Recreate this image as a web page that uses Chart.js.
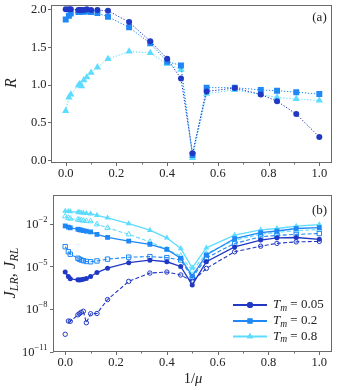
<!DOCTYPE html>
<html><head><meta charset="utf-8">
<script src="https://cdn.jsdelivr.net/npm/chart.js@4.4.1/dist/chart.umd.min.js"></script>
<style>
html,body{margin:0;padding:0;background:#fff;}
#wrap{position:relative;width:337px;height:390px;overflow:hidden;background:#fff;}
#wa{position:absolute;left:0;top:0;width:337px;height:190px;}
#wb{position:absolute;left:0;top:190px;width:337px;height:200px;}
</style></head><body>
<div id="wrap"><div id="wa"><canvas id="ca"></canvas></div><div id="wb"><canvas id="cb"></canvas></div></div>
<script>
// ---- data ----
const invMu = [0, 0.0125, 0.02, 0.05, 0.0556, 0.0625, 0.0714, 0.0833, 0.1, 0.125, 0.1667, 0.25, 0.3333, 0.4, 0.4545, 0.5, 0.5556, 0.6667, 0.7692, 0.8333, 0.9091, 1.0];
const tmLabels = ['0.05', '0.2', '0.8'];
// panel (a): R
const R_Tm005 = [2.0, 2.0, 2.0, 1.99, 1.99, 1.99, 1.99, 2.0, 1.99, 1.99, 1.98, 1.83, 1.575, 1.345, 1.08, 0.09, 0.91, 0.955, 0.87, 0.78, 0.61, 0.305];
const R_Tm02  = [1.865, 1.915, 1.945, 1.965, 1.965, 1.97, 1.97, 1.97, 1.965, 1.95, 1.90, 1.76, 1.55, 1.305, 1.255, 0.066, 0.96, 0.96, 0.93, 0.92, 0.90, 0.875];
const R_Tm08  = [0.65, 0.83, 0.87, 0.99, 1.01, 0.98, 1.06, 1.10, 1.16, 1.23, 1.34, 1.44, 1.42, 1.275, 1.20, 0.027, 0.88, 0.93, 0.87, 0.83, 0.81, 0.79];
// panel (b): J_LR (solid, filled) and J_RL (dashed, open)
const JLR_Tm005 = [4.0e-6, 1.95e-6, 1.35e-6, 1.15e-6, 1.12e-6, 1.17e-6, 1.26e-6, 1.41e-6, 1.95e-6, 3.7e-6, 7.4e-6, 1.8e-5, 2.7e-5, 2.1e-5, 9.8e-6, 5.0e-7, 2.1e-5, 2.3e-4, 6.9e-4, 1.0e-3, 1.05e-3, 7.9e-4];
const JRL_Tm005 = [1.74e-10, 1.48e-9, 1.41e-9, 4.0e-9, 4.8e-9, 6.0e-9, 7.1e-9, 1.12e-9, 4.8e-9, 5.0e-9, 4.7e-8, 8.9e-7, 3.4e-6, 4.0e-6, 2.5e-6, 8.9e-7, 7.2e-6, 1.05e-4, 2.6e-4, 4.1e-4, 5.2e-4, 5.6e-4];
const JLR_Tm02  = [6.8e-3, 5.6e-3, 5.0e-3, 4.0e-3, 3.7e-3, 3.5e-3, 3.2e-3, 2.9e-3, 2.6e-3, 1.74e-3, 1.07e-3, 5.9e-4, 3.5e-4, 1.55e-4, 3.7e-5, 2.1e-6, 6.3e-5, 8.9e-4, 2.3e-3, 3.0e-3, 4.5e-3, 5.2e-3];
const JRL_Tm02  = [2.4e-4, 1.07e-4, 7.1e-5, 3.7e-5, 3.2e-5, 2.8e-5, 2.5e-5, 2.2e-5, 2.1e-5, 2.4e-5, 3.2e-5, 4.4e-5, 4.8e-5, 4.1e-5, 2.8e-5, 1.6e-6, 4.0e-5, 4.0e-4, 1.17e-3, 1.48e-3, 1.74e-3, 2.0e-3];
const JLR_Tm08  = [7.4e-2, 7.1e-2, 6.8e-2, 6.3e-2, 6.0e-2, 5.8e-2, 5.5e-2, 5.2e-2, 4.9e-2, 3.8e-2, 2.5e-2, 1.0e-2, 3.4e-3, 1.0e-3, 1.8e-4, 7.9e-6, 2.0e-4, 1.55e-3, 3.6e-3, 4.5e-3, 6.5e-3, 8.5e-3];
const JRL_Tm08  = [3.2e-2, 2.5e-2, 2.2e-2, 1.9e-2, 1.8e-2, 1.7e-2, 1.6e-2, 1.5e-2, 1.45e-2, 8.9e-3, 5.0e-3, 1.74e-3, 5.2e-4, 1.55e-4, 5.4e-5, 5.0e-6, 7.9e-5, 6.9e-4, 1.8e-3, 2.4e-3, 3.2e-3, 3.8e-3];
// ticks
const xTicks = [0, 0.2, 0.4, 0.6, 0.8, 1.0];
const xMinorTicks = [0.1, 0.3, 0.5, 0.7, 0.9];
const rTicks = [0, 0.5, 1.0, 1.5, 2.0];
const jTicks = [1e-11, 1e-8, 1e-5, 1e-2];
const jTickExp = ['\u221211', '\u22128', '\u22125', '\u22122'];

// ---- styles ----
const C = ['#2038c4', '#1f88f6', '#5ddcff'];
const FONT = '"Liberation Serif", "DejaVu Serif", serif';
const FRAME = '#6a6a6a';
const TXT = '#222';

function pts(arr) { return invMu.map((x, i) => ({x: x, y: arr[i]})); }

function drawRuns(ctx, runs, x, y, align) {
  let w = 0;
  runs.forEach(r => { ctx.font = r.font; r.w = ctx.measureText(r.t).width; w += r.w; });
  let cx = align === 'right' ? x - w : (align === 'center' ? x - w / 2 : x);
  runs.forEach(r => { ctx.font = r.font; ctx.fillText(r.t, cx, y + (r.dy || 0)); cx += r.w; });
  return w;
}

function framePlugin(kind) {
  return {
    id: 'frame_' + kind,
    afterDraw(chart) {
      const ctx = chart.ctx, a = chart.chartArea;
      const xs = chart.scales.x, ys = chart.scales.y;
      const L = Math.round(a.left) + 0.5, R = Math.round(a.right) - 0.5;
      const T = Math.round(a.top) + 0.5, B = Math.round(a.bottom) - 0.5;
      ctx.save();
      ctx.strokeStyle = FRAME; ctx.lineWidth = 1;
      ctx.strokeRect(L, T, R - L, B - T);
      ctx.beginPath();
      xTicks.forEach(v => { const p = Math.round(xs.getPixelForValue(v)) + 0.5; ctx.moveTo(p, B); ctx.lineTo(p, B + 3.5); });
      xMinorTicks.forEach(v => { const p = Math.round(xs.getPixelForValue(v)) + 0.5; ctx.moveTo(p, B); ctx.lineTo(p, B + 2); });
      const yt = kind === 'a' ? rTicks : jTicks;
      yt.forEach(v => { const p = Math.round(ys.getPixelForValue(v)) + 0.5; ctx.moveTo(L, p); ctx.lineTo(L - 3.5, p); });
      ctx.stroke();
      ctx.fillStyle = TXT; ctx.textBaseline = 'middle'; ctx.textAlign = 'left';
      xTicks.forEach(v => {
        drawRuns(ctx, [{t: v.toFixed(1), font: '12.5px ' + FONT}], xs.getPixelForValue(v), B + 11, 'center');
      });
      if (kind === 'a') {
        rTicks.forEach(v => drawRuns(ctx, [{t: v.toFixed(1), font: '12.5px ' + FONT}], L - 5, ys.getPixelForValue(v) + 0.5, 'right'));
        ctx.save(); ctx.translate(12, 83); ctx.rotate(-Math.PI / 2);
        drawRuns(ctx, [{t: 'R', font: 'italic 16px ' + FONT}], 0, 0, 'center');
        ctx.restore();
        drawRuns(ctx, [{t: '(a)', font: '13px ' + FONT}], 319.5, 17.5, 'center');
      } else {
        jTicks.forEach((v, i) => {
          const p = ys.getPixelForValue(v);
          drawRuns(ctx, [{t: '10', font: '12.5px ' + FONT, dy: 1}, {t: jTickExp[i], font: '8.5px ' + FONT, dy: -4}], L - 6, p, 'right');
        });
        ctx.save(); ctx.translate(11, 83); ctx.rotate(-Math.PI / 2);
        drawRuns(ctx, [
          {t: 'J', font: 'italic 16.5px ' + FONT},
          {t: 'LR', font: 'italic 12px ' + FONT, dy: 3.5},
          {t: ', ', font: '16.5px ' + FONT},
          {t: 'J', font: 'italic 16.5px ' + FONT},
          {t: 'RL', font: 'italic 12px ' + FONT, dy: 3.5}
        ], 0, 0, 'center');
        ctx.restore();
        drawRuns(ctx, [{t: '(b)', font: '13px ' + FONT}], 319.5, 20.5, 'center');
        drawRuns(ctx, [{t: '1/', font: '14.5px ' + FONT}, {t: '\u03BC', font: 'italic 14.5px ' + FONT}], 193, 189, 'center');
        const rows = [115, 131, 146.5], styles = ['circle', 'rect', 'triangle'], rad = [3, 3.6, 3.6];
        rows.forEach((ry, i) => {
          ctx.strokeStyle = C[i]; ctx.lineWidth = 1.8; ctx.setLineDash([]);
          ctx.beginPath(); ctx.moveTo(233, ry); ctx.lineTo(267, ry); ctx.stroke();
          ctx.fillStyle = C[i];
          Chart.helpers.drawPoint(ctx, {pointStyle: styles[i], radius: rad[i], rotation: 0, borderWidth: 0}, 250, ry);
          ctx.fill();
          ctx.fillStyle = TXT;
          drawRuns(ctx, [
            {t: 'T', font: 'italic 13px ' + FONT},
            {t: 'm', font: 'italic 9.5px ' + FONT, dy: 3},
            {t: ' = ' + tmLabels[i], font: '13px ' + FONT}
          ], 273, ry, 'left');
        });
      }
      ctx.restore();
    }
  };
}

function baseScales(xmin, xmax, yopts, yw, xh) {
  return {
    x: {type: 'linear', min: xmin, max: xmax,
        afterBuildTicks: s => { s.ticks = xTicks.map(v => ({value: v})); },
        ticks: {display: false}, grid: {display: false}, border: {display: false},
        afterFit: s => { s.height = xh; }},
    y: Object.assign({ticks: {display: false}, grid: {display: false}, border: {display: false},
        afterFit: s => { s.width = yw; }}, yopts)
  };
}

const markStyles = ['circle', 'rect', 'triangle'];

// ---- panel (a) ----
const rSeries = [R_Tm005, R_Tm02, R_Tm08];
const radA = [3, 4.2, 4.2];
new Chart(document.getElementById('ca'), {
  type: 'scatter',
  data: {datasets: rSeries.map((s, i) => ({
    data: pts(s), showLine: true, borderColor: C[i], backgroundColor: C[i],
    borderWidth: 1, borderDash: [1.3, 1.7], pointStyle: markStyles[i], pointRadius: radA[i],
    pointBorderWidth: 0, pointBackgroundColor: C[i]
  }))},
  options: {
    responsive: true, maintainAspectRatio: false, animation: false, devicePixelRatio: 1,
    layout: {padding: {top: 5, right: 5, left: 0, bottom: 0}},
    plugins: {legend: {display: false}, tooltip: {enabled: false}},
    scales: baseScales(-0.06, 1.05, {type: 'linear', min: -0.04, max: 2.057,
      afterBuildTicks: s => { s.ticks = rTicks.map(v => ({value: v})); }}, 50.5, 27)
  },
  plugins: [framePlugin('a')]
});

// ---- panel (b) ----
const lrSeries = [JLR_Tm005, JLR_Tm02, JLR_Tm08];
const rlSeries = [JRL_Tm005, JRL_Tm02, JRL_Tm08];
const radB = [2.5, 3.4, 3.4];
const dsB = [];
[0, 1, 2].forEach(i => {
  dsB.push({data: pts(lrSeries[i]), showLine: true, borderColor: C[i], backgroundColor: C[i],
    borderWidth: 1.3, pointStyle: markStyles[i], pointRadius: radB[i], pointBorderWidth: 0,
    pointBackgroundColor: C[i]});
  dsB.push({data: pts(rlSeries[i]), showLine: true, borderColor: C[i], backgroundColor: 'rgba(255,255,255,0)',
    borderWidth: 1.1, borderDash: [4, 2.2], pointStyle: markStyles[i], pointRadius: radB[i] - 0.3,
    pointBorderWidth: 1, pointBorderColor: C[i], pointBackgroundColor: 'rgba(255,255,255,0)',
    segment: i === 0 ? {borderColor: ctx => ctx.p0DataIndex === 0 ? 'rgba(0,0,0,0)' : undefined} : undefined});
});
new Chart(document.getElementById('cb'), {
  type: 'scatter',
  data: {datasets: dsB},
  options: {
    responsive: true, maintainAspectRatio: false, animation: false, devicePixelRatio: 1,
    layout: {padding: {top: 4, right: 5, left: 0, bottom: 0}},
    plugins: {legend: {display: false}, tooltip: {enabled: false}},
    scales: baseScales(-0.048, 1.05, {type: 'logarithmic', min: 1e-11, max: 1,
      afterBuildTicks: s => { s.ticks = jTicks.map(v => ({value: v})); }}, 53, 38)
  },
  plugins: [framePlugin('b')]
});
</script>
</body></html>
